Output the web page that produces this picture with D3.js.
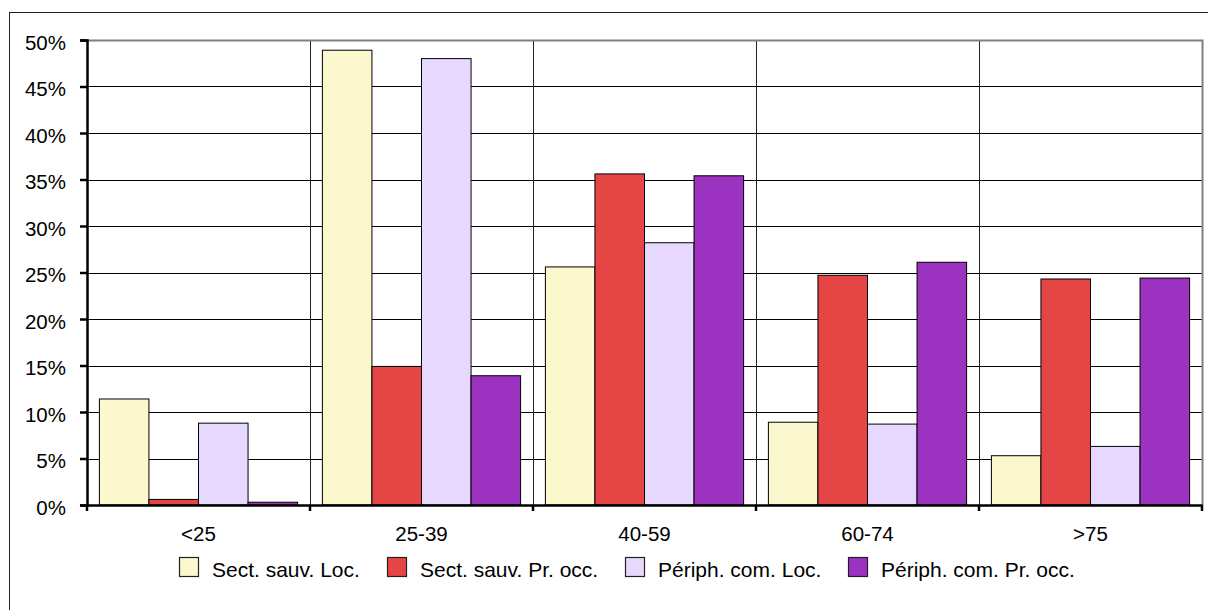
<!DOCTYPE html>
<html><head><meta charset="utf-8">
<script src="https://cdn.jsdelivr.net/npm/d3@7"></script>
<style>body{margin:0;background:#fff}svg{display:block;font-family:"Liberation Sans",Arial,sans-serif}</style>
</head><body><svg id="c" width="1208" height="610"></svg>
<script>
const categories = ["<25","25-39","40-59","60-74",">75"];
const seriesNames = ["Sect. sauv. Loc.","Sect. sauv. Pr. occ.","Périph. com. Loc.","Périph. com. Pr. occ."];
const seriesColors = ["#fbf8cd","#e54545","#e6d8fe","#9b32c0"];
const sectSauvLoc   = [11.4, 48.9, 25.6, 8.9, 5.3];
const sectSauvPrOcc = [0.6, 14.9, 35.6, 24.7, 24.3];
const periphComLoc  = [8.8, 48.0, 28.2, 8.7, 6.3];
const periphComPrOcc= [0.3, 13.9, 35.4, 26.1, 24.4];
const yTicks = [0,5,10,15,20,25,30,35,40,45,50];
const allSeries = [sectSauvLoc, sectSauvPrOcc, periphComLoc, periphComPrOcc];

const svg = d3.select("#c");
const L=87, R=1202, T=40, B=505;
svg.append("rect").attr("x",9.5).attr("y",12.5).attr("width",1210).attr("height",610).attr("fill","none").attr("stroke","#222");

const x = d3.scaleBand().domain(categories).range([L,R]).paddingInner(0).paddingOuter(0);
const x1 = d3.scaleBand().domain(d3.range(4)).range([0,x.bandwidth()]).paddingInner(0).paddingOuter(0.25);
const y = d3.scaleLinear().domain([0,50]).range([B,T]);

svg.append("g").selectAll("line").data(yTicks.filter(t=>t>0&&t<50)).join("line")
  .attr("x1",L).attr("x2",R).attr("y1",d=>Math.round(y(d))+0.5).attr("y2",d=>Math.round(y(d))+0.5)
  .attr("stroke","#000").attr("stroke-width",1);
svg.append("g").selectAll("line").data(categories.slice(1)).join("line")
  .attr("x1",d=>Math.round(x(d))+0.5).attr("x2",d=>Math.round(x(d))+0.5).attr("y1",T).attr("y2",B)
  .attr("stroke","#222").attr("stroke-width",1);
svg.append("path").attr("d",`M${L},${T+0.5}H${R+0.5}V${B}`).attr("fill","none").attr("stroke","#808080").attr("stroke-width",2);

const g = svg.append("g");
categories.forEach((c,ci)=>{
  allSeries.forEach((s,si)=>{
    g.append("rect")
      .attr("x",x(c)+x1(si)).attr("width",x1.bandwidth())
      .attr("y",y(s[ci])).attr("height",B-y(s[ci]))
      .attr("fill",seriesColors[si]).attr("stroke","#000").attr("stroke-width",1);
  });
});

const ya = svg.append("g").attr("transform",`translate(${L},0)`)
  .call(d3.axisLeft(y).tickValues(yTicks).tickFormat(d=>d+"%").tickSize(7).tickPadding(14));
ya.select(".domain").attr("stroke","#000").attr("stroke-width",2.5);
ya.selectAll(".tick line").attr("stroke","#000").attr("stroke-width",2.5);
ya.selectAll(".tick text").attr("font-size",20.5).attr("fill","#000").attr("font-family","Liberation Sans, Arial").attr("dy","0.45em");

const xa = svg.append("g").attr("transform",`translate(0,${B})`)
  .call(d3.axisBottom(x).tickSize(0).tickPadding(21));
xa.select(".domain").attr("stroke","#000").attr("stroke-width",2.5);
xa.selectAll(".tick text").attr("font-size",20.5).attr("fill","#000").attr("font-family","Liberation Sans, Arial");
const bounds = categories.map(c=>x(c)).concat([R]);
svg.append("g").selectAll("line").data(bounds).join("line")
  .attr("x1",d=>d).attr("x2",d=>d).attr("y1",B).attr("y2",B+6).attr("stroke","#000").attr("stroke-width",2.5);

const legendX = [179, 387, 625, 848];
const lg = svg.append("g");
seriesNames.forEach((n,i)=>{
  lg.append("rect").attr("x",legendX[i]+0.5).attr("y",557.5).attr("width",19).attr("height",19)
    .attr("fill",seriesColors[i]).attr("stroke","#222").attr("stroke-width",1.2);
  lg.append("text").attr("x",legendX[i]+33).attr("y",577).attr("font-size",21).attr("fill","#000").text(n);
});
</script></body></html>
